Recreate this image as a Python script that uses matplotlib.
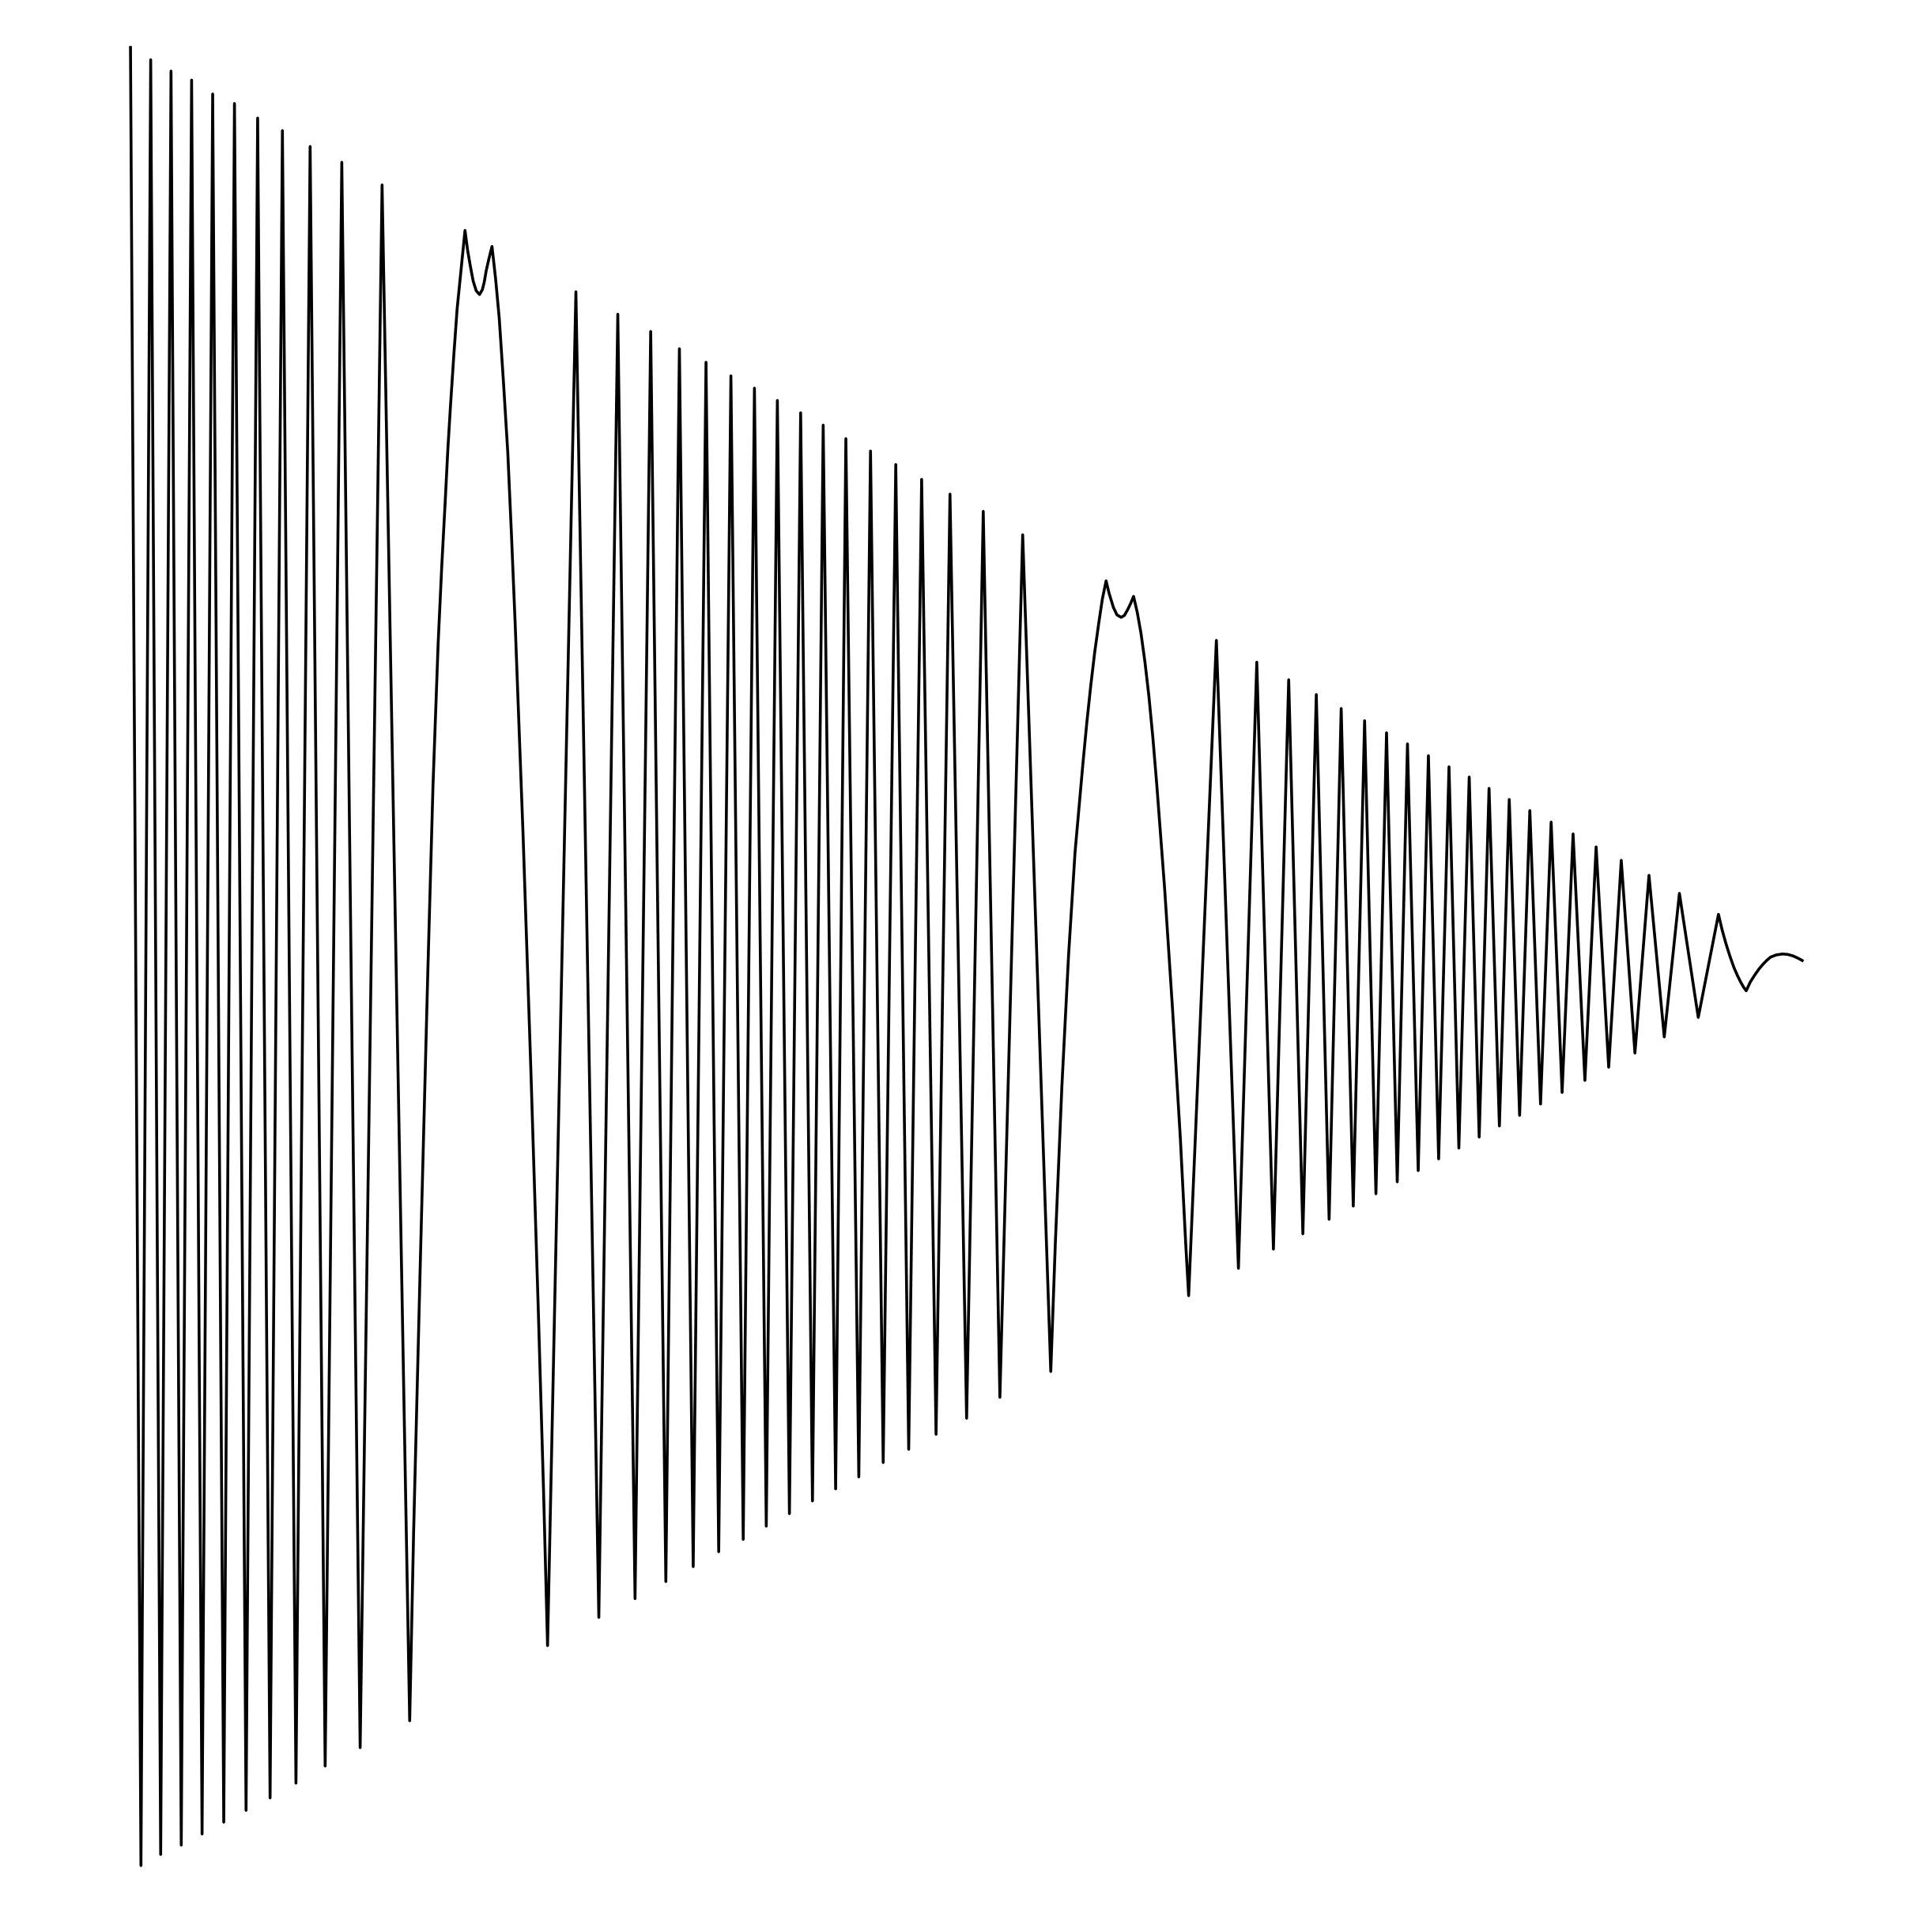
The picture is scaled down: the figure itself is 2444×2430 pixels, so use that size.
import numpy as np
import matplotlib
matplotlib.use("Agg")
import matplotlib.pyplot as plt

######################################
# DATA (y grows downward)
######################################

# first burst: fast zigzag with slowly shrinking swing
zig1_t = [105.9, 114.4, 122.3, 130.4, 138.8, 147.1, 155.5, 164.0, 172.6, 181.6,
          190.3, 199.7, 209.1, 219.2, 229.2, 240.2, 251.7, 263.9, 277.4, 292.3,
          310.1, 332.5]
zig1_v = [38.5, 1514, 48.5, 1505, 57.7, 1497.4, 65, 1488.4, 76.3, 1478.8,
          84, 1469.2, 95.8, 1459.1, 106, 1447.1, 118.9, 1433.2, 131.7, 1418.3,
          150.1, 1396.5]

# first slow arch (with the small notch on top)
arc1_t = [335.7, 341.1, 347.1, 351.4, 355.6, 358.5, 361.4, 363.5, 365.7, 368.4,
          371.0, 374.5, 377.4,
          379.5, 381.7, 384.0, 386.5, 389.2, 391.5, 393.0, 394.6, 396.8, 399.3,
          402.2, 405.2, 408.6, 412.1, 415.1, 418.1, 424.5, 430.9, 436.9, 441.2,
          444.4]
arc1_v = [1243, 1025.5, 793, 638, 522, 460, 405.5, 364, 328, 287,
          250.7, 216, 187,
          203, 215.8, 228, 236, 239, 235, 229, 219.7, 210, 200,
          226, 258.5, 310, 367, 434, 506, 677, 870, 1064, 1212,
          1335.5]

# second burst
zig2_t = [467.4, 486.0, 501.4, 515.4, 528.1, 540.4, 551.4, 562.6, 573.0, 583.3,
          593.2, 603.2, 612.3, 621.9, 630.9, 640.7, 649.8, 659.4, 668.1, 678.2,
          686.5, 697.0, 706.5, 716.8, 727.0, 737.5, 748.0, 759.7, 771.0, 784.5,
          798.0, 811.5, 830.0, 852.8]
zig2_v = [236.8, 1312.6, 255, 1297.4, 269, 1283.5, 283, 1271.4, 294, 1259.3,
          305, 1249.3, 315, 1238.6, 325, 1228.4, 335, 1218.1, 345, 1208.3,
          356, 1198.6, 366, 1186.9, 377, 1176.2, 389, 1164, 401, 1151,
          415, 1134, 434, 1113]

# second slow arch
arc2_t = [856.5, 861.8, 867.2, 872.5, 878.9, 882.1, 885.3, 888.5, 891.8, 894.7,
          897.7,
          900.0, 903.5, 906.5, 909.9, 912.5, 915.3, 917.5, 920.0,
          923.0, 926.0, 929.2, 932.4, 935.6, 938.8, 945.2, 951.6, 958.0, 962.3,
          964.7]
arc2_v = [1009, 882, 776, 691.6, 619.6, 586, 556, 529, 505.3, 486,
          471.4,
          481, 492.6, 499, 501, 499.5, 494.6, 490, 484,
          497, 513.8, 537, 564.6, 598, 636.4, 721, 818.6, 924.5, 1009,
          1051.5]

# third burst
zig3_t = [987.2, 1005.1, 1020.0, 1033.5, 1045.9, 1057.4, 1068.3, 1078.7, 1088.5,
          1098.3, 1107.5, 1116.7, 1125.3, 1134.0, 1142.3, 1151.0, 1159.3, 1167.6,
          1176.0, 1184.0, 1192.4, 1200.5, 1208.5, 1216.9, 1224.9, 1233.3, 1241.6,
          1250.3, 1258.9, 1267.8, 1276.7, 1286.3, 1295.4, 1305.6, 1315.8, 1326.9,
          1338.3, 1350.7, 1363.0, 1378.3, 1394.7]
zig3_v = [519.7, 1029.3, 537.4, 1013.7, 551.7, 1001.3, 563.7, 989.5, 575,
          978.8, 584.9, 968.8, 594.7, 959.1, 603.7, 950, 613.3, 940.5,
          622.3, 931.7, 630.6, 922.8, 639.8, 913.8, 648.8, 905.2, 657.8,
          896, 667.2, 886.6, 676.8, 876.8, 687.3, 866.1, 698.2, 854.6,
          710.4, 841.5, 725, 825.7, 742]

# tail settling out
tail_t = [1397.5, 1400.7, 1404.0, 1407.1, 1410.0, 1412.5, 1415.0, 1417.2,
          1420.5, 1424.2, 1427.5, 1430.7, 1434.0, 1437.1, 1441.5, 1446.7,
          1451.0, 1455.3, 1459.0, 1462.7]
tail_v = [754, 765.6, 776, 784.8, 791.5, 796.6, 801, 804.1,
          797, 791.2, 786.5, 782.7, 779.3, 776.7, 775, 774.2,
          774.6, 775.8, 777.5, 779.5]

t = np.concatenate([zig1_t, arc1_t, zig2_t, arc2_t, zig3_t, tail_t])
v = np.concatenate([zig1_v, arc1_v, zig2_v, arc2_v, zig3_v, tail_v])

######################################
# PLOT
######################################

fig = plt.figure(figsize=(24.44, 24.30), dpi=100)
ax = fig.add_axes([0, 0, 1, 1])
ax.plot(t, v, color="black", linewidth=2.6)
ax.set_xlim(0, 1568)
ax.set_ylim(1559, 0)
ax.axis("off")

fig.savefig("out.png", dpi=100, facecolor="white")
